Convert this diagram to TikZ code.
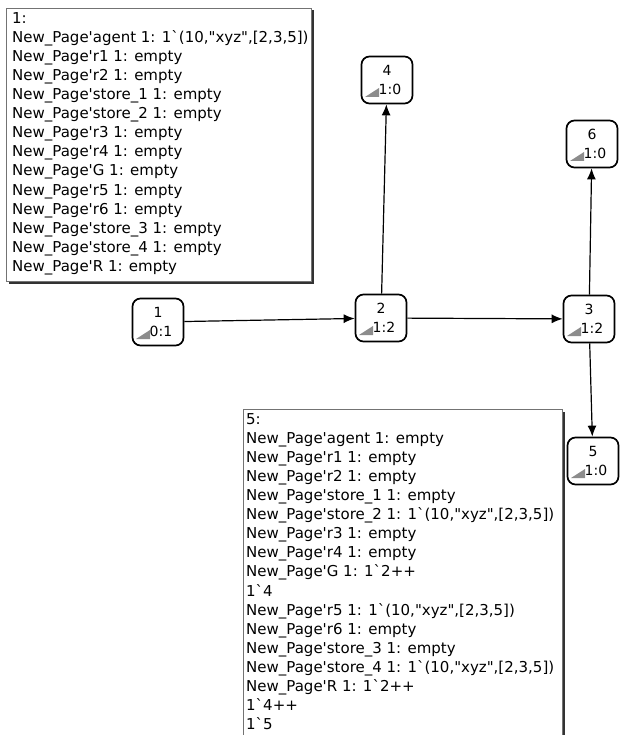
\documentclass[tikz,border=0pt]{standalone}
\usepackage{fontspec}
\newfontfamily\vf{DejaVu Sans}
\usetikzlibrary{arrows.meta}
\newcommand{\lowline}[1]{\hspace*{6pt}#1}
\begin{document}
\begin{tikzpicture}[x=1pt,y=-1pt,
  state/.style={draw=black, line width=1.7pt, rounded corners=8pt, fill=white,
    minimum width=51pt, minimum height=47pt, inner sep=0pt, align=center,
    font=\vf\fontsize{14}{18.5}\selectfont},
  boxtext/.style={anchor=north west, inner sep=0pt, align=left,
    font=\vf\fontsize{15}{19.1}\selectfont},
  infobox/.style={fill=white, draw=black!55, line width=0.8pt},
  boxshadow/.style={fill=black!80},
  tri/.style={fill=black!45},
  edge/.style={draw=black, line width=1.2pt, -{Latex[length=11pt,width=9pt]}}
]
\useasboundingbox (0,0) rectangle (620,735);
\fill[white] (0,0) rectangle (620,735);

% info box 1
\fill[boxshadow] (8.5,10.5) rectangle (313.5,283.5);
\draw[infobox] (6,8) rectangle (311,281);
\node[boxtext] (t1) at (12,12) {1:\\
New\_Page'agent 1: 1`(10,"xyz",[2,3,5])\\
New\_Page'r1 1: empty\\
New\_Page'r2 1: empty\\
New\_Page'store\_1 1: empty\\
New\_Page'store\_2 1: empty\\
New\_Page'r3 1: empty\\
New\_Page'r4 1: empty\\
New\_Page'G 1: empty\\
New\_Page'r5 1: empty\\
New\_Page'r6 1: empty\\
New\_Page'store\_3 1: empty\\
New\_Page'store\_4 1: empty\\
New\_Page'R 1: empty};

% info box 5
\begin{scope}
\clip (0,0) rectangle (620,735);
\fill[boxshadow] (245.5,411.5) rectangle (564.5,745);
\draw[infobox] (243,409) rectangle (562,745);
\end{scope}
\node[boxtext] (t5) at (246,413) {5:\\
New\_Page'agent 1: empty\\
New\_Page'r1 1: empty\\
New\_Page'r2 1: empty\\
New\_Page'store\_1 1: empty\\
New\_Page'store\_2 1: 1`(10,"xyz",[2,3,5])\\
New\_Page'r3 1: empty\\
New\_Page'r4 1: empty\\
New\_Page'G 1: 1`2++\\
1`4\\
New\_Page'r5 1: 1`(10,"xyz",[2,3,5])\\
New\_Page'r6 1: empty\\
New\_Page'store\_3 1: empty\\
New\_Page'store\_4 1: 1`(10,"xyz",[2,3,5])\\
New\_Page'R 1: 1`2++\\
1`4++\\
1`5};

% state nodes
\node[state] (n1) at (158,322) {1\\\lowline{0:1}};
\node[state] (n2) at (381,318) {2\\\lowline{1:2}};
\node[state] (n3) at (589,319) {3\\\lowline{1:2}};
\node[state] (n4) at (387,80) {4\\\lowline{1:0}};
\node[state] (n6) at (592,144) {6\\\lowline{1:0}};
\node[state] (n5) at (593,461) {5\\\lowline{1:0}};

\foreach \n in {n1,n2,n3,n4,n5,n6}
  \fill[tri] ([shift={(-22,17)}]\n.center) -- ++(14,0) -- ++(0,-9) -- cycle;

% connectors
\draw[edge] (n1) -- (n2);
\draw[edge] (n2) -- (n3);
\draw[edge] (n2) -- (n4);
\draw[edge] (n3) -- (n6);
\draw[edge] (n3) -- (n5);
\end{tikzpicture}
\end{document}
